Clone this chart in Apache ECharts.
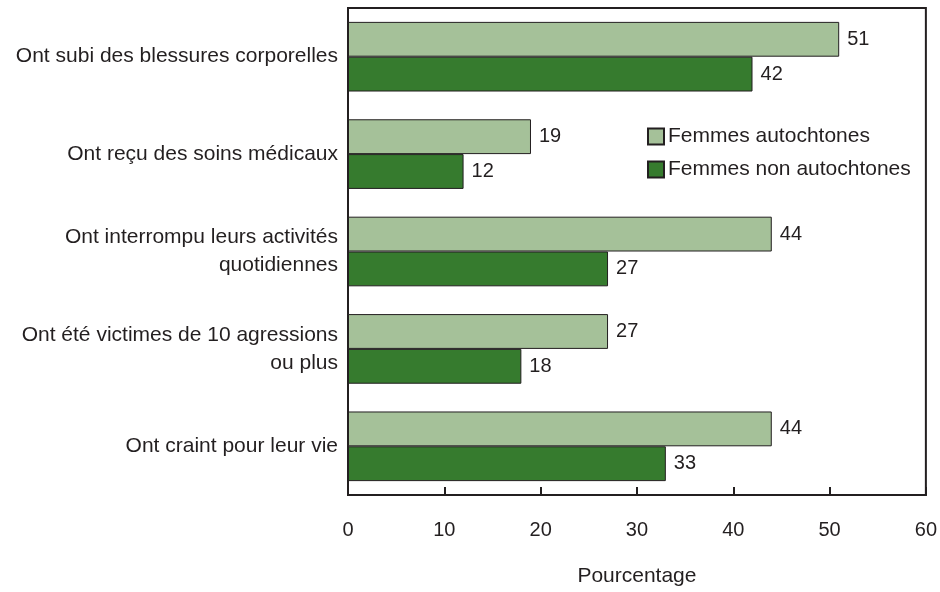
<!DOCTYPE html>
<html>
<head>
<meta charset="utf-8">
<script src="https://cdn.jsdelivr.net/npm/echarts@6/dist/echarts.min.js"></script>
<style>
  html, body { margin: 0; padding: 0; background: #fff; }
  #chart { width: 940px; height: 592px; }
</style>
</head>
<body>
<div id="chart"></div>
<script>
// Categories (top to bottom) and percentages for each group
const categories = [
  'Ont subi des blessures corporelles',
  'Ont reçu des soins médicaux',
  'Ont interrompu leurs activités\nquotidiennes',
  'Ont été victimes de 10 agressions\nou plus',
  'Ont craint pour leur vie'
];
const autochtones = [51, 19, 44, 27, 44];
const nonAutochtones = [42, 12, 27, 18, 33];
const seriesNames = ['Femmes autochtones', 'Femmes non autochtones'];
const xTicks = { min: 0, max: 60, interval: 10 };
const axisTitle = 'Pourcentage';

const FONT = '"Liberation Sans", Arial, Helvetica, sans-serif';
const TEXT = '#231f20';

const chart = echarts.init(document.getElementById('chart'));

function barSeries(name, data, color) {
  return {
    name: name,
    type: 'bar',
    data: data,
    barGap: '0%',
    barCategoryGap: '28.5%',
    itemStyle: { color: color, borderColor: '#231f20', borderWidth: 1 },
    label: {
      show: true,
      position: 'right',
      distance: 8,
      color: TEXT,
      fontFamily: FONT,
      fontSize: 20
    },
    emphasis: { disabled: true },
    animation: false
  };
}

chart.setOption({
  animation: false,
  textStyle: { fontFamily: FONT, color: TEXT },
  grid: {
    left: 348, right: 10, top: 8, bottom: 91,
    show: true, borderColor: '#231f20', borderWidth: 2,
    containLabel: false
  },
  legend: {
    orient: 'vertical',
    left: 647, top: 126,
    padding: 0,
    itemWidth: 16, itemHeight: 16, itemGap: 12,
    icon: 'rect',
    textStyle: { fontFamily: FONT, fontSize: 21, color: TEXT, padding: [0, 0, 0, -1] },
    selectedMode: false
  },
  xAxis: {
    type: 'value',
    min: xTicks.min, max: xTicks.max, interval: xTicks.interval,
    name: axisTitle,
    nameLocation: 'middle',
    nameGap: 71,
    nameTextStyle: { fontFamily: FONT, fontSize: 21, color: TEXT },
    axisLine: { show: true, lineStyle: { color: '#231f20', width: 2 } },
    axisTick: { show: true, inside: true, length: 8, lineStyle: { color: '#231f20', width: 2 } },
    axisLabel: { margin: 25, fontFamily: FONT, fontSize: 20, color: TEXT },
    splitLine: { show: false }
  },
  yAxis: {
    type: 'category',
    inverse: true,
    data: categories,
    axisLine: { show: true, lineStyle: { color: '#231f20', width: 2 } },
    axisTick: { show: false },
    axisLabel: {
      margin: 10, fontFamily: FONT, fontSize: 21, color: TEXT,
      align: 'right', lineHeight: 28, padding: [4, 0, 0, 0]
    }
  },
  series: [
    barSeries(seriesNames[0], autochtones, '#a5c199'),
    barSeries(seriesNames[1], nonAutochtones, '#367b2e')
  ]
});
</script>
</body>
</html>
